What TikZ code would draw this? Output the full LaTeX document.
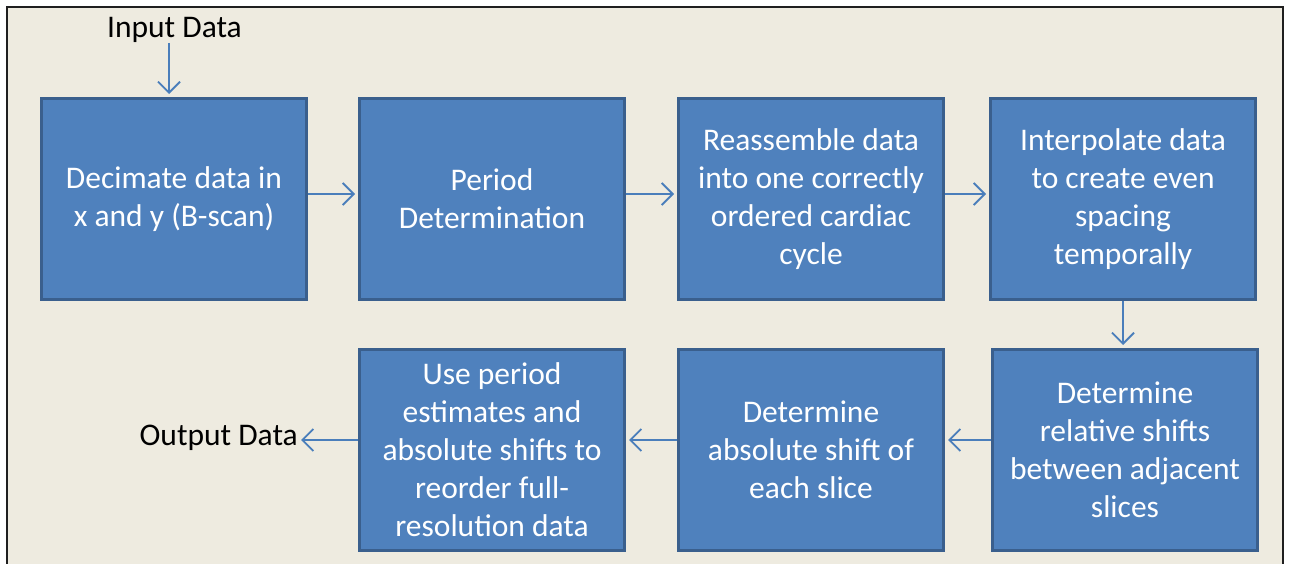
\documentclass[tikz,border=0pt]{standalone}
\usepackage{fontspec}
\setmainfont{Carlito}
\usetikzlibrary{arrows.meta}
\definecolor{bg}{HTML}{EEEBE0}
\definecolor{boxfill}{HTML}{4F81BD}
\definecolor{boxedge}{HTML}{3A5F8D}
\definecolor{arr}{HTML}{4A7EBB}
\tikzset{
  stepbox/.style={draw=boxedge, line width=3pt, fill=boxfill, text=white,
    minimum width=265pt, minimum height=201pt, inner sep=0pt, align=center,
    font=\fontsize{31.5}{38}\selectfont, anchor=north west},
  plain/.style={text=black, font=\fontsize{31.5}{38}\selectfont, inner sep=0pt},
  flow/.style={draw=arr, line width=1.8pt, -{Straight Barb[length=11pt, width=22pt, line width=1.8pt]}, shorten >=3pt}
}
\begin{document}
\begin{tikzpicture}[x=1pt, y=-1pt]
\useasboundingbox (0,0) rectangle (1290,564);
\fill[white] (0,0) rectangle (1290,564);
\fill[bg] (7,7) rectangle (1283,564);
\draw[line width=2.5pt, color=black!88] (7,564) -- (7,7) -- (1283,7) -- (1283,564);

\node[stepbox] (b1) at (40,97)  {Decimate data in\\x and y (B-scan)};
\node[stepbox] (b2) at (358,97) {Period\\Determination};
\node[stepbox] (b3) at (677,97) {Reassemble data\\into one correctly\\ordered cardiac\\cycle};
\node[stepbox] (b4) at (989,97) {Interpolate data\\to create even\\spacing\\temporally};
\node[stepbox] (b5) at (991,348) {Determine\\relative shifts\\between adjacent\\slices};
\node[stepbox] (b6) at (677,348) {Determine\\absolute shift of\\each slice};
\node[stepbox] (b7) at (358,348) {Use period\\estimates and\\absolute shifts to\\reorder full-\\resolution data};

\node[plain] (in) at (174.5,30) {Input Data};
\node[plain, anchor=east] (out) at (298,438) {Output Data};

\draw[flow] ([xshift=-5pt]b1.north |- in.south) -- ([xshift=-5pt]b1.north);
\draw[flow] ([yshift=5pt]b1.east) -- ([yshift=5pt]b2.west);
\draw[flow] ([yshift=5pt]b2.east) -- ([yshift=5pt]b3.west);
\draw[flow] ([yshift=5pt]b3.east) -- ([yshift=5pt]b4.west);
\draw[flow] (b4.south) -- (b5.north -| b4.south);
\draw[flow] ([yshift=10pt]b5.west) -- ([yshift=10pt]b6.east);
\draw[flow] ([yshift=10pt]b6.west) -- ([yshift=10pt]b7.east);
\draw[flow] ([yshift=10pt]b7.west) -- ([yshift=10pt]b7.west -| out.east);
\end{tikzpicture}
\end{document}
